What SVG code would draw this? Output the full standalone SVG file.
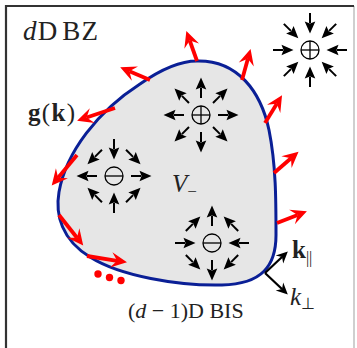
<svg xmlns="http://www.w3.org/2000/svg" xmlns:xlink="http://www.w3.org/1999/xlink" width="357" height="348" viewBox="0 0 357 348">
<style>
.frame{fill:none;stroke:#333;stroke-width:2.2}
.frame2{fill:none;stroke:#cfcfcf;stroke-width:2}
.blob{fill:#e6e6e6;stroke:#0a1f96;stroke-width:3}
.g{stroke:#ff0000;stroke-width:3.8;fill:none}
.k{stroke:#000;stroke-width:2.2;fill:none}
.ch{fill:none;stroke:#000;stroke-width:1.3}
.sh{stroke:#000;stroke-width:2}
.t{font-family:"Liberation Serif","Times New Roman",serif;fill:#222}
</style>
<defs>
<marker id="rh" markerUnits="userSpaceOnUse" orient="auto" viewBox="-8 -9 20 18" markerWidth="20" markerHeight="18" refX="0" refY="0">
<path d="M10,0 L-6,-7.8 L0,0 L-6,7.8 Z" fill="#ff0000"/>
</marker>
<marker id="kh" markerUnits="userSpaceOnUse" orient="auto" viewBox="-5 -7 16 14" markerWidth="16" markerHeight="14" refX="0" refY="0">
<path d="M8,0 L-3.5,-5.5 L0,0 L-3.5,5.5 Z" fill="#000"/>
</marker>
<g id="a">
<line class="sh" x1="-10" y1="0" x2="0" y2="0"/>
<path d="M10.5,0 L-1.5,-5.3 L0.5,0 L-1.5,5.3 Z" fill="#000"/>
</g>
</defs>
<g id="frame">
<line class="frame2" x1="354" y1="6" x2="354" y2="348"/>
<path class="frame" d="M6,348 L6,6 L354,6"/>
</g>
<g id="bis">
<path class="blob" d="M197,61 C238,60 261,92 269,130 C276,165 276,200 276,235 C276,266 262,284 222,285 C178,286 120,276 90,257 C62,240 55,215 59,192 C66,152 98,111 140,84 C160,70 180,61 197,61 Z"/>
</g>
<g id="connectors">
<line class="g" x1="150" y1="80" x2="129.4" y2="71.2" marker-end="url(#rh)"/>
<line class="g" x1="115" y1="108" x2="86.6" y2="117.5" marker-end="url(#rh)"/>
<line class="g" x1="77" y1="155" x2="58.1" y2="177.8" marker-end="url(#rh)"/>
<line class="g" x1="59" y1="215" x2="77" y2="237.7" marker-end="url(#rh)"/>
<line class="g" x1="87" y1="256" x2="117.1" y2="260.8" marker-end="url(#rh)"/>
<line class="g" x1="197" y1="61" x2="189.7" y2="40.5" marker-end="url(#rh)"/>
<line class="g" x1="242" y1="80" x2="247.9" y2="58.7" marker-end="url(#rh)"/>
<line class="g" x1="265" y1="123" x2="276.8" y2="103.8" marker-end="url(#rh)"/>
<line class="g" x1="274" y1="173" x2="291" y2="158.2" marker-end="url(#rh)"/>
<line class="g" x1="277" y1="223" x2="297.6" y2="214.9" marker-end="url(#rh)"/>
<line class="k" x1="265" y1="273" x2="282" y2="257" marker-end="url(#kh)"/>
<line class="k" x1="265" y1="273" x2="282" y2="289" marker-end="url(#kh)"/>
</g>
<g id="dots" fill="#ff0000">
<circle cx="98" cy="274" r="3.7"/>
<circle cx="109.5" cy="277.5" r="3.7"/>
<circle cx="121" cy="280.5" r="3.7"/>
</g>
<g id="charge-outer" transform="translate(310,50)">
<circle class="ch" r="9"/>
<line class="ch" x1="-9" y1="0" x2="9" y2="0"/><line class="ch" x1="0" y1="-9" x2="0" y2="9"/>
<use xlink:href="#a" transform="rotate(0) translate(27,0) rotate(180)"/>
<use xlink:href="#a" transform="rotate(45) translate(27,0) rotate(180)"/>
<use xlink:href="#a" transform="rotate(90) translate(27,0) rotate(180)"/>
<use xlink:href="#a" transform="rotate(135) translate(27,0) rotate(180)"/>
<use xlink:href="#a" transform="rotate(180) translate(27,0) rotate(180)"/>
<use xlink:href="#a" transform="rotate(225) translate(27,0) rotate(180)"/>
<use xlink:href="#a" transform="rotate(270) translate(27,0) rotate(180)"/>
<use xlink:href="#a" transform="rotate(315) translate(27,0) rotate(180)"/>
</g>
<g id="charge-plus" transform="translate(201,115)">
<circle class="ch" r="9"/>
<line class="ch" x1="-9" y1="0" x2="9" y2="0"/><line class="ch" x1="0" y1="-9" x2="0" y2="9"/>
<use xlink:href="#a" transform="rotate(0) translate(27,0)"/>
<use xlink:href="#a" transform="rotate(45) translate(27,0)"/>
<use xlink:href="#a" transform="rotate(90) translate(27,0)"/>
<use xlink:href="#a" transform="rotate(135) translate(27,0)"/>
<use xlink:href="#a" transform="rotate(180) translate(27,0)"/>
<use xlink:href="#a" transform="rotate(225) translate(27,0)"/>
<use xlink:href="#a" transform="rotate(270) translate(27,0)"/>
<use xlink:href="#a" transform="rotate(315) translate(27,0)"/>
</g>
<g id="charge-minus-left" transform="translate(114,176)">
<circle class="ch" r="9"/>
<line class="ch" x1="-9" y1="0" x2="9" y2="0"/>
<use xlink:href="#a" transform="translate(27,0) rotate(0)"/>
<use xlink:href="#a" transform="translate(19.1,19.1) rotate(315)"/>
<use xlink:href="#a" transform="translate(0,27) rotate(270)"/>
<use xlink:href="#a" transform="translate(-19.1,19.1) rotate(225)"/>
<use xlink:href="#a" transform="translate(-27,0) rotate(180)"/>
<use xlink:href="#a" transform="translate(-19.1,-19.1) rotate(135)"/>
<use xlink:href="#a" transform="translate(0,-27) rotate(90)"/>
<use xlink:href="#a" transform="translate(19.1,-19.1) rotate(45)"/>
</g>
<g id="charge-minus-low" transform="translate(212,243)">
<circle class="ch" r="9"/>
<line class="ch" x1="-9" y1="0" x2="9" y2="0"/>
<use xlink:href="#a" transform="translate(27,0) rotate(180)"/>
<use xlink:href="#a" transform="translate(19.1,19.1) rotate(135)"/>
<use xlink:href="#a" transform="translate(0,27) rotate(90)"/>
<use xlink:href="#a" transform="translate(-19.1,19.1) rotate(45)"/>
<use xlink:href="#a" transform="translate(-27,0) rotate(0)"/>
<use xlink:href="#a" transform="translate(-19.1,-19.1) rotate(315)"/>
<use xlink:href="#a" transform="translate(0,-27) rotate(270)"/>
<use xlink:href="#a" transform="translate(19.1,-19.1) rotate(225)"/>
</g>
<g id="labels">
<text class="t" x="23" y="40" font-size="27" textLength="75" lengthAdjust="spacing"><tspan font-style="italic">d</tspan>D<tspan dx="4">BZ</tspan></text>
<text class="t" x="28" y="121" font-size="25" textLength="47" lengthAdjust="spacing"><tspan font-weight="bold">g</tspan>(<tspan font-weight="bold">k</tspan>)</text>
<text class="t" x="172" y="192" font-size="25"><tspan font-style="italic">V</tspan><tspan font-size="17" dy="5">−</tspan></text>
<text class="t" x="128" y="318" font-size="22">(<tspan font-style="italic">d</tspan> − 1)D BIS</text>
<text class="t" x="292" y="258" font-size="25"><tspan font-weight="bold">k</tspan><tspan font-size="16" dy="5">||</tspan></text>
<text class="t" x="290" y="305" font-size="25"><tspan font-style="italic">k</tspan><tspan font-size="16" dy="4">⊥</tspan></text>
</g>
</svg>
